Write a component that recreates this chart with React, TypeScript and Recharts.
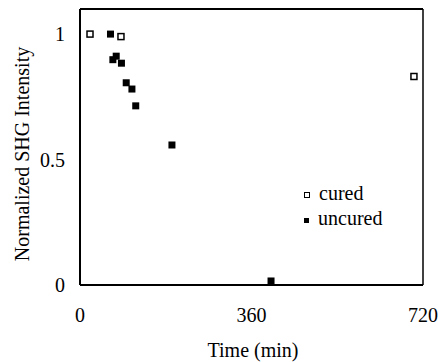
import React from 'react';
import { ScatterChart, Scatter, XAxis, YAxis, ReferenceLine, Legend, Label } from 'recharts';

// Time (min) and normalized SHG intensity
const curedTime = [21, 86, 701];
const curedIntensity = [1.0, 0.99, 0.831];
const uncuredTime = [64, 69, 76, 87, 97, 109, 117, 193, 401];
const uncuredIntensity = [1.0, 0.898, 0.912, 0.884, 0.806, 0.781, 0.714, 0.558, 0.016];
const xTicks = [0, 360, 720];
const yTicks = [0, 0.5, 1];

const FONT = '"Liberation Serif", "Times New Roman", serif';

const cured = curedTime.map((t, i) => ({ t, v: curedIntensity[i] }));
const uncured = uncuredTime.map((t, i) => ({ t, v: uncuredIntensity[i] }));

const OpenSquare = (props: any) => (
  <rect x={props.cx - 3} y={props.cy - 3} width={6} height={6} fill="#fff" stroke="#000" strokeWidth={1.5} />
);

const FilledSquare = (props: any) => (
  <rect x={props.cx - 3.5} y={props.cy - 3.5} width={7} height={7} fill="#000" />
);

const renderLegend = (props: any) => (
  <div style={{ fontFamily: FONT, fontSize: 20, color: '#000' }}>
    {props.payload.map((entry: any) => (
      <div key={entry.value} style={{ display: 'flex', alignItems: 'center', height: 25 }}>
        <span
          style={{
            display: 'inline-block',
            width: entry.value === 'cured' ? 4 : 5,
            height: entry.value === 'cured' ? 4 : 5,
            border: entry.value === 'cured' ? '1px solid #000' : 'none',
            background: entry.value === 'cured' ? '#fff' : '#000',
            marginRight: 9,
            marginTop: 3,
          }}
        />
        <span>{entry.value}</span>
      </div>
    ))}
  </div>
);

export default function App() {
  return (
    <div style={{ position: 'absolute', left: 0, top: 0, background: '#fff' }}>
      <ScatterChart width={438} height={362} margin={{ top: 9, right: 15, left: 0, bottom: 0 }}>
        <XAxis
          type="number"
          dataKey="t"
          domain={[0, 720]}
          ticks={xTicks}
          height={77}
          tickSize={0}
          tickMargin={23}
          axisLine={{ stroke: '#000', strokeWidth: 2 }}
          tick={{ fill: '#000', fontSize: 20, fontFamily: FONT }}
        >
          <Label
            content={() => (
              <text x={253} y={350} textAnchor="middle" dominantBaseline="central" fontFamily={FONT} fontSize={20} fill="#000">
                Time (min)
              </text>
            )}
          />
        </XAxis>
        <YAxis
          type="number"
          dataKey="v"
          domain={[0, 1.1]}
          ticks={yTicks}
          width={80}
          tickSize={0}
          tickMargin={15}
          axisLine={{ stroke: '#000', strokeWidth: 2 }}
          tick={{ fill: '#000', fontSize: 20, fontFamily: FONT }}
        >
          <Label
            content={() => (
              <text
                x={22}
                y={154}
                transform="rotate(-90 22 154)"
                textAnchor="middle"
                dominantBaseline="central"
                fontFamily={FONT}
                fontSize={20}
                fill="#000"
              >
                Normalized SHG Intensity
              </text>
            )}
          />
        </YAxis>
        <ReferenceLine y={1.1} stroke="#000" strokeWidth={2} />
        <ReferenceLine x={720} stroke="#000" strokeWidth={1.5} />
        <Legend
          layout="vertical"
          align="center"
          verticalAlign="middle"
          content={renderLegend}
          wrapperStyle={{ left: 304, top: 181, width: 120 }}
        />
        <Scatter name="cured" data={cured} shape={OpenSquare} isAnimationActive={false} />
        <Scatter name="uncured" data={uncured} shape={FilledSquare} isAnimationActive={false} />
      </ScatterChart>
    </div>
  );
}
